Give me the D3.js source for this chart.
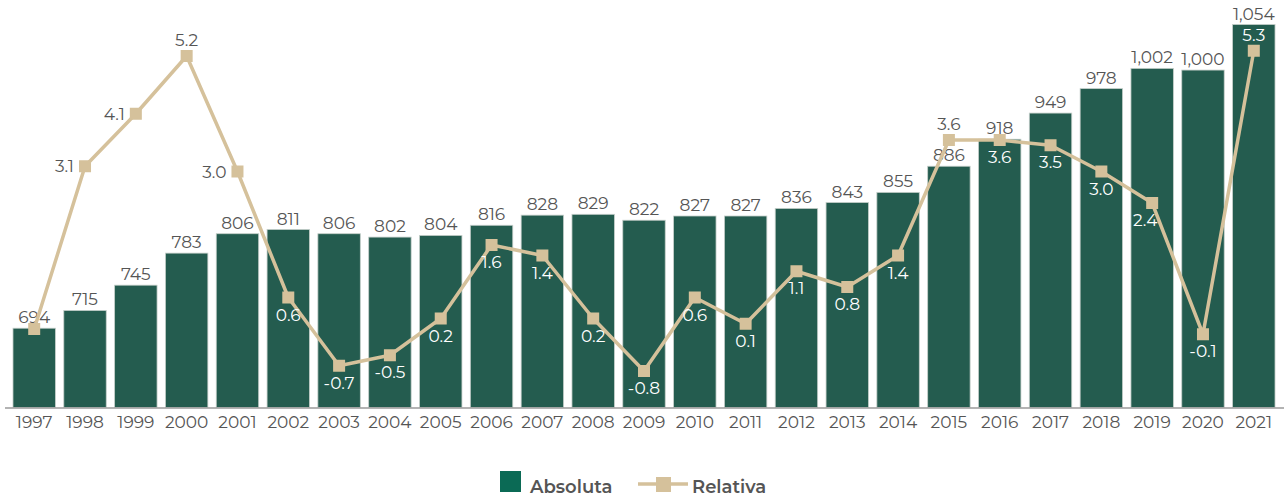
<!DOCTYPE html>
<html>
<head>
<meta charset="utf-8">
<script src="https://cdn.jsdelivr.net/npm/d3@7"></script>
<style>
  body { margin: 0; background: #fff; }
  text { font-family: Montserrat, "DejaVu Sans", sans-serif; }
</style>
</head>
<body>
<div id="chart"></div>
<script>
// data
var years = ["1997","1998","1999","2000","2001","2002","2003","2004","2005","2006","2007","2008","2009",
  "2010","2011","2012","2013","2014","2015","2016","2017","2018","2019","2020","2021"];
var absoluta = [694, 715, 745, 783, 806, 811, 806, 802, 804, 816, 828, 829, 822,
  827, 827, 836, 843, 855, 886, 918, 949, 978, 1002, 1000, 1054];
var relativa = [0, 3.1, 4.1, 5.2, 3.0, 0.6, -0.7, -0.5, 0.2, 1.6, 1.4, 0.2, -0.8,
  0.6, 0.1, 1.1, 0.8, 1.4, 3.6, 3.6, 3.5, 3.0, 2.4, -0.1, 5.3];

var svgWidth = 1286;
var svgHeight = 497;
var baseY = 407.5;

var barColor = "#245c4f";
var lineColor = "#d5c19b";
var textColor = "#555555";
var fontSize = "17px";

var svg = d3.select("#chart")
  .append("svg")
  .attr("width", svgWidth)
  .attr("height", svgHeight);

// scales
var x = d3.scaleBand()
  .domain(years)
  .range([4.5, 1283.5])
  .paddingInner(0.165)
  .paddingOuter(0.167);

var yBar = d3.scaleLinear()
  .domain([600, 1100])
  .range([baseY, baseY - 500 * 0.8436]);

var yLine = d3.scaleLinear()
  .domain([-1, 6])
  .range([329 + 52.5, 329 - 6 * 52.5]);

// bars
svg.append("g").selectAll("rect")
  .data(absoluta)
  .enter()
  .append("rect")
  .attr("x", (d, i) => x(years[i]))
  .attr("y", d => yBar(d))
  .attr("width", x.bandwidth())
  .attr("height", d => baseY - yBar(d))
  .attr("fill", barColor)
  .attr("stroke", "#c5cfca")
  .attr("stroke-width", 0.8);

// bar labels
var fmtAbs = d3.format(",");
svg.append("g").selectAll("text")
  .data(absoluta)
  .enter()
  .append("text")
  .attr("x", (d, i) => x(years[i]) + x.bandwidth() / 2)
  .attr("y", d => yBar(d) - 5)
  .attr("text-anchor", "middle")
  .attr("font-size", fontSize)
  .attr("fill", textColor)
  .text(d => fmtAbs(d));

// x axis
var xAxis = d3.axisBottom(x).tickSize(0).tickPadding(8);
var axisG = svg.append("g")
  .attr("transform", `translate(0, ${baseY})`)
  .call(xAxis);
axisG.select(".domain").attr("stroke", "#9a9a9a").attr("stroke-width", 1.5);
axisG.selectAll("text")
  .attr("font-size", fontSize)
  .attr("fill", textColor)
  .attr("font-family", "Montserrat, 'DejaVu Sans', sans-serif");

// line
var cx = i => x(years[i]) + x.bandwidth() / 2;
var line = d3.line()
  .x((d, i) => cx(i))
  .y(d => yLine(d));

svg.append("path")
  .datum(relativa)
  .attr("d", line)
  .attr("fill", "none")
  .attr("stroke", lineColor)
  .attr("stroke-width", 3.5)
  .attr("stroke-linejoin", "round");

svg.append("g").selectAll("rect")
  .data(relativa)
  .enter()
  .append("rect")
  .attr("x", (d, i) => cx(i) - 6)
  .attr("y", d => yLine(d) - 6)
  .attr("width", 12)
  .attr("height", 12)
  .attr("fill", lineColor);

// line labels: left of point for the steep rise, above at the peaks, below otherwise
// plain hyphen for negatives, like the original
var fmtRel = d => d3.format(".1f")(d).replace("\u2212", "-");
var leftYears = ["1998", "1999", "2001"];
var aboveYears = ["2000", "2015", "2021"];

var relLabels = svg.append("g");
relativa.forEach(function(d, i) {
  if (i === 0) return; // 1997 has no label
  var yr = years[i];
  var t = relLabels.append("text")
    .attr("font-size", fontSize)
    .text(fmtRel(d));
  if (leftYears.includes(yr)) {
    t.attr("x", cx(i) - 11).attr("y", yLine(d) + 6)
      .attr("text-anchor", "end").attr("fill", textColor);
  } else if (aboveYears.includes(yr)) {
    t.attr("x", cx(i)).attr("y", yLine(d) - 10)
      .attr("text-anchor", "middle")
      .attr("fill", yr === "2021" ? "#fff" : textColor);
  } else {
    t.attr("x", cx(i) + (yr === "2019" ? -7 : 0)).attr("y", yLine(d) + 23)
      .attr("text-anchor", "middle").attr("fill", "#fff");
  }
});

// legend
var legend = svg.append("g");
legend.append("rect")
  .attr("x", 500).attr("y", 471)
  .attr("width", 21).attr("height", 21)
  .attr("fill", "#0b6a55");
legend.append("text")
  .attr("x", 530).attr("y", 493)
  .attr("font-size", "18px")
  .attr("font-weight", 600)
  .attr("fill", textColor)
  .text("Absoluta");
legend.append("line")
  .attr("x1", 638).attr("x2", 688)
  .attr("y1", 484).attr("y2", 484)
  .attr("stroke", lineColor)
  .attr("stroke-width", 3.5);
legend.append("rect")
  .attr("x", 656).attr("y", 477)
  .attr("width", 15).attr("height", 15)
  .attr("fill", lineColor);
legend.append("text")
  .attr("x", 692).attr("y", 493)
  .attr("font-size", "18px")
  .attr("font-weight", 600)
  .attr("fill", textColor)
  .text("Relativa");
</script>
</body>
</html>
